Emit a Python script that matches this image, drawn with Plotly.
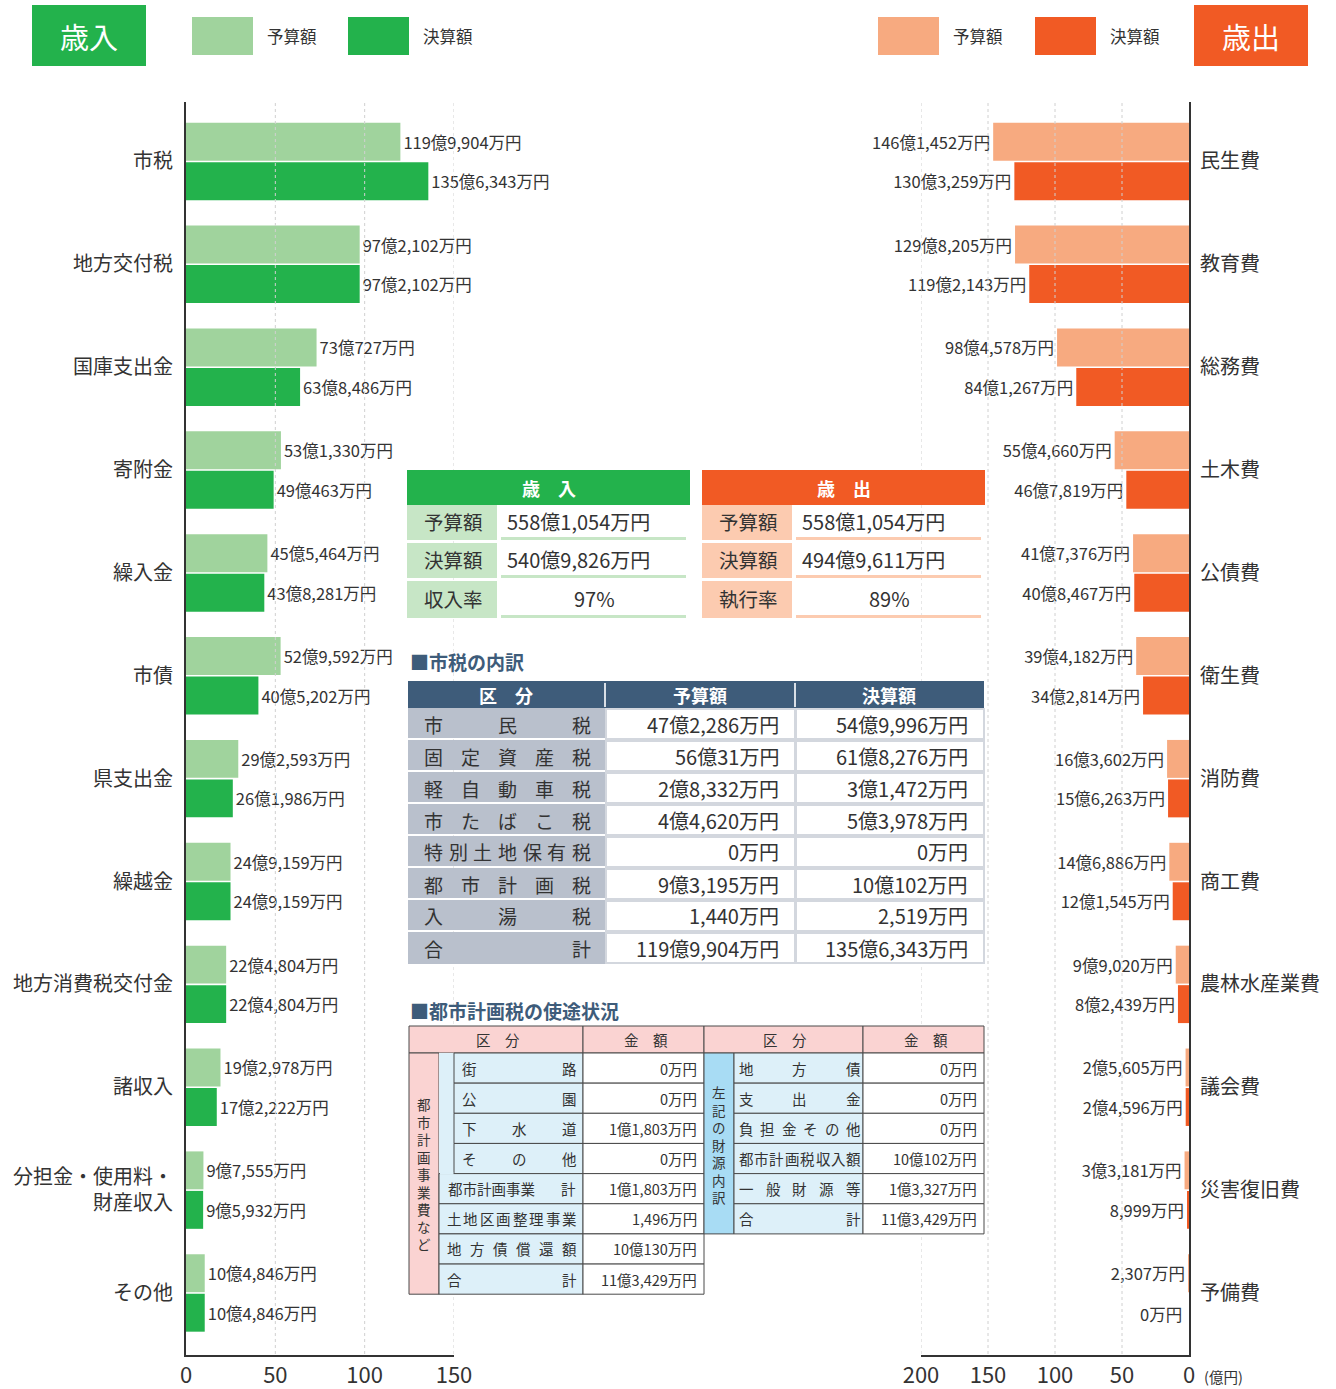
import plotly.graph_objects as go

W, H = 1336, 1389
FONT = "Noto Sans CJK JP"
TXT = "#333333"
G_LIGHT, G_DARK = "#a0d39d", "#23b24c"
O_LIGHT, O_DARK = "#f7aa80", "#f15a24"
G_CELL, O_CELL = "#c7e6c6", "#fccbb0"
NAVY, GREY = "#3e5c7a", "#b9c0cc"
PINK, LBLUE, SKY = "#fad3d2", "#ddf0f9", "#a8dcf4"
BORDER = "#4a4a4a"

# ---------------- data (万円) ----------------
rev_cats = ["市税", "地方交付税", "国庫支出金", "寄附金", "繰入金", "市債", "県支出金", "繰越金",
            "地方消費税交付金", "諸収入", "分担金・使用料・<br>財産収入", "その他"]
rev_budget = [1199904, 972102, 730727, 531330, 455464, 529592, 292593, 249159, 224804, 192978, 97555, 104846]
rev_actual = [1356343, 972102, 638486, 490463, 438281, 405202, 261986, 249159, 224804, 172222, 95932, 104846]

exp_cats = ["民生費", "教育費", "総務費", "土木費", "公債費", "衛生費", "消防費", "商工費",
            "農林水産業費", "議会費", "災害復旧費", "予備費"]
exp_budget = [1461452, 1298205, 984578, 554660, 417376, 394182, 163602, 146886, 99020, 25605, 33181, 2307]
exp_actual = [1303259, 1192143, 841267, 467819, 408467, 342814, 156263, 121545, 82439, 24596, 8999, 0]

left_ticks = [0, 50, 100, 150]
right_ticks = [0, 50, 100, 150, 200]

shizei_items = ["市民税", "固定資産税", "軽自動車税", "市たばこ税", "特別土地保有税", "都市計画税", "入湯税"]
shizei_budget = [472286, 560031, 28332, 44620, 0, 93195, 1440]
shizei_actual = [549996, 618276, 31472, 53978, 0, 100102, 2519]

use_sub_items = ["街路", "公園", "下水道", "その他"]
use_sub_values = [0, 0, 11803, 0]
use_other_items = ["土地区画整理事業", "地方債償還額"]
use_other_values = [1496, 100130]
src_items = ["地方債", "支出金", "負担金その他", "都市計画税収入額", "一般財源等"]
src_values = [0, 0, 0, 100102, 13327]


def yen(v):
    oku, man = divmod(v, 10000)
    return (f"{oku}億" if oku else "") + f"{man:,}万円"


shapes, anns = [], []


def X(p):
    return p / W


def Y(p):
    return 1 - p / H


def rect(x0, y0, x1, y1, fill, line=None, lw=0):
    shapes.append(dict(type="rect", xref="paper", yref="paper", x0=X(x0), x1=X(x1), y0=Y(y1), y1=Y(y0),
                       fillcolor=fill, line=dict(color=line if line else fill, width=lw), layer="above"))


def seg(x0, y0, x1, y1, color, w=1):
    shapes.append(dict(type="line", xref="paper", yref="paper", x0=X(x0), x1=X(x1), y0=Y(y0), y1=Y(y1),
                       line=dict(color=color, width=w), layer="above"))


def txt(x, y, s, size, color=TXT, anchor="center", bold=False):
    if bold:
        s = f"<b>{s}</b>"
    anns.append(dict(xref="paper", yref="paper", x=X(x), y=Y(y), text=s, showarrow=False,
                     xanchor=anchor, yanchor="middle", borderpad=0,
                     font=dict(family=FONT, size=size, color=color)))


def spread(s, x0, x1, y, size, color=TXT):
    n = len(s)
    step = (x1 - x0 - size) / (n - 1) if n > 1 else 0
    for i, c in enumerate(s):
        txt(x0 + size / 2 + i * step, y, c, size, color)


def vertical(s, x, yc, size, color=TXT):
    # upright vertical writing: one character per line
    txt(x, yc, "<br>".join(s), size, color)


# ---------------- gridlines (above bars, dotted) ----------------
for v in left_ticks[1:]:
    shapes.append(dict(type="line", xref="x", yref="paper", x0=v, x1=v, y0=Y(1354), y1=Y(102),
                       line=dict(color="#d0d0d0", width=1, dash="dot"), layer="above"))
for v in right_ticks[1:]:
    shapes.append(dict(type="line", xref="x2", yref="paper", x0=v, x1=v, y0=Y(1354), y1=Y(102),
                       line=dict(color="#d0d0d0", width=1, dash="dot"), layer="above"))

# ---------------- header / legend ----------------
rect(32, 5, 146, 66, G_DARK)
txt(89, 36, "歳入", 29, "white")
rect(192, 17, 253, 55, G_LIGHT)
txt(266, 36, "予算額", 16.5, anchor="left")
rect(348, 17, 409, 55, G_DARK)
txt(422, 36, "決算額", 16.5, anchor="left")
rect(878, 17, 939, 55, O_LIGHT)
txt(952, 36, "予算額", 16.5, anchor="left")
rect(1035, 17, 1096, 55, O_DARK)
txt(1109, 36, "決算額", 16.5, anchor="left")
rect(1194, 5, 1308, 66, O_DARK)
txt(1251, 36, "歳出", 29, "white")
txt(1203, 1376, "(億円)", 14.5, anchor="left")


# ---------------- summary tables ----------------
def summary(x0, head, hc, cc, labels, values):
    x1 = x0 + 283
    rect(x0, 470, x1, 505, hc)
    txt((x0 + x1) / 2, 488, head, 18, "white", bold=True)
    rows = [(505, 540), (543, 578), (581, 618)]
    for i, (t, b) in enumerate(rows):
        rect(x0, t, x0 + 90, b, cc)
        rect(x0 + 94, b - 3, x1 - 4, b, cc)
        txt(x0 + 46, (t + b) / 2 - 1, labels[i], 19.5)
        if i < 2:
            txt(x0 + 99, (t + b) / 2 - 1, values[i], 20, anchor="left")
        else:
            txt(x0 + 187, (t + b) / 2 - 1, values[i], 20)


rb, ra = sum(rev_budget), sum(rev_actual)
eb, ea = sum(exp_budget), sum(exp_actual)
summary(407, "歳　入", G_DARK, G_CELL, ["予算額", "決算額", "収入率"],
        [yen(rb), yen(ra), f"{round(ra / rb * 100)}%"])
summary(702, "歳　出", O_DARK, O_CELL, ["予算額", "決算額", "執行率"],
        [yen(eb), yen(ea), f"{round(ea / eb * 100)}%"])

# ---------------- 市税の内訳 ----------------
txt(409, 661, "■市税の内訳", 19, "#3e5c7a", anchor="left", bold=True)
rect(408, 681, 984, 708, NAVY)
txt(506, 694.5, "区　分", 18, "white", bold=True)
txt(700, 694.5, "予算額", 18, "white", bold=True)
txt(889, 694.5, "決算額", 18, "white", bold=True)
seg(605, 683, 605, 707, "#d9dfe6", 2)
seg(795, 683, 795, 707, "#d9dfe6", 2)
rows3 = shizei_items + ["合計"]
b3 = shizei_budget + [sum(shizei_budget)]
a3 = shizei_actual + [sum(shizei_actual)]
for i, name in enumerate(rows3):
    t = 708 + 32 * i
    b = t + 32
    rect(408, t, 605, b - 2 if i < 7 else b, GREY)
    rect(606, t + 1, 795, b - 1, "white", "#d3d7de", 2)
    rect(796, t + 1, 984, b - 1, "white", "#d3d7de", 2)
    spread(name, 424, 591, t + 16, 19)
    txt(780, t + 16, yen(b3[i]), 20, anchor="right")
    txt(969, t + 16, yen(a3[i]), 20, anchor="right")

# ---------------- 都市計画税の使途状況 ----------------
txt(409, 1010, "■都市計画税の使途状況", 19, "#3e5c7a", anchor="left", bold=True)
FS = 14.5
hdr = [(409, 583, "区　分"), (583, 704, "金　額"), (704, 863, "区　分"), (863, 984, "金　額")]
for x0, x1, s in hdr:
    rect(x0, 1026, x1, 1053, PINK, BORDER, 1)
    txt((x0 + x1) / 2 + 2, 1039.5, s, FS)
RH = 30.15
tops = [1053 + RH * r for r in range(9)]
# left block
rect(409, 1053, 439, tops[8], PINK, BORDER, 1)
vertical("都市計画事業費など", 424, 1174, 13.5)
rect(439, 1053, 454, tops[4], LBLUE)
left_vals = use_sub_values + [sum(use_sub_values)] + use_other_values
left_vals = left_vals + [sum(left_vals[4:7])]
for r in range(8):
    t, b = tops[r], tops[r + 1]
    if r < 4:
        rect(454, t, 583, b, LBLUE, BORDER, 1)
        spread(use_sub_items[r], 462, 577, (t + b) / 2, FS)
    else:
        rect(439, t, 583, b, LBLUE, BORDER, 1)
        if r == 4:
            txt(447, (t + b) / 2, "都市計画事業", FS, anchor="left")
            txt(577, (t + b) / 2, "計", FS, anchor="right")
        elif r in (5, 6):
            spread(use_other_items[r - 5], 447, 577, (t + b) / 2, FS)
        else:
            spread("合計", 447, 577, (t + b) / 2, FS)
    rect(583, t, 704, b, "white", BORDER, 1)
    txt(698, (t + b) / 2, yen(left_vals[r]), FS, anchor="right")
rect(440, tops[4] - 1, 453.5, tops[4] + 1, LBLUE)
# right block
rect(704, 1053, 734, tops[6], SKY, BORDER, 1)
vertical("左記の財源内訳", 719, 1144, 13.5)
right_vals = src_values + [sum(src_values)]
for r in range(6):
    t, b = tops[r], tops[r + 1]
    rect(734, t, 863, b, LBLUE, BORDER, 1)
    label = src_items[r] if r < 5 else "合計"
    spread(label, 739, 861, (t + b) / 2, FS)
    rect(863, t, 984, b, "white", BORDER, 1)
    txt(978, (t + b) / 2, yen(right_vals[r]), FS, anchor="right")

# ---------------- bars ----------------
idx = list(range(12))
fig = go.Figure()


def bar(vals, color, xa, ya):
    return go.Bar(y=idx, x=[v / 10000 for v in vals], orientation="h",
                  marker=dict(color=color, line=dict(width=0)),
                  text=[yen(v) for v in vals],
                  textposition=["outside" if v > 0 else "none" for v in vals],
                  textfont=dict(family=FONT, size=16.5, color=TXT),
                  cliponaxis=False, constraintext="none", hoverinfo="skip",
                  xaxis=xa, yaxis=ya)


fig.add_trace(bar(rev_budget, G_LIGHT, "x", "y"))
fig.add_trace(bar(rev_actual, G_DARK, "x", "y"))
fig.add_trace(bar(exp_budget, O_LIGHT, "x2", "y2"))
fig.add_trace(bar(exp_actual, O_DARK, "x2", "y2"))

# zero-valued bars: label placed at the axis, on the bar's growing side
for i, v in enumerate(exp_actual):
    if v == 0:
        anns.append(dict(xref="x2", yref="y2", x=0, y=i + 0.2, text=yen(v), showarrow=False,
                         xanchor="right", yanchor="middle", xshift=-5,
                         font=dict(family=FONT, size=16.5, color=TXT)))
for i, v in enumerate(rev_actual):
    if v == 0:
        anns.append(dict(xref="x", yref="y", x=0, y=i + 0.2, text=yen(v), showarrow=False,
                         xanchor="left", yanchor="middle", xshift=5,
                         font=dict(family=FONT, size=16.5, color=TXT)))

yr = [11.603, -0.578]
ax_common = dict(showgrid=False, zeroline=False, showline=True, linecolor="#333333", linewidth=2,
                 ticks="", fixedrange=True, automargin=False)
fig.update_layout(
    width=W, height=H, margin=dict(l=0, r=0, t=0, b=0, autoexpand=False),
    paper_bgcolor="white", plot_bgcolor="white", showlegend=False,
    barmode="group", bargap=0.232, bargroupgap=0.04,
    font=dict(family=FONT, color=TXT),
    xaxis=dict(domain=[X(186), X(454)], range=[0, 150], tickvals=left_ticks,
               tickfont=dict(size=22, color=TXT), ticklabelstandoff=0, anchor="y", **ax_common),
    yaxis=dict(domain=[Y(1355), Y(102)], range=yr, tickvals=idx, ticktext=rev_cats,
               tickfont=dict(size=20, color=TXT), ticklabelstandoff=7, anchor="x", **ax_common),
    xaxis2=dict(domain=[X(921), X(1189)], range=[200, 0], tickvals=right_ticks,
                tickfont=dict(size=22, color=TXT), ticklabelstandoff=0, anchor="y2", **ax_common),
    yaxis2=dict(domain=[Y(1355), Y(102)], range=yr, tickvals=idx, ticktext=exp_cats, side="right",
                tickfont=dict(size=20, color=TXT), ticklabelstandoff=5, anchor="x2", **ax_common),
    shapes=shapes, annotations=anns,
)

fig.write_html("out.html", config={"displayModeBar": False},
               post_script="document.body.style.margin='0';document.body.style.overflow='hidden';")
